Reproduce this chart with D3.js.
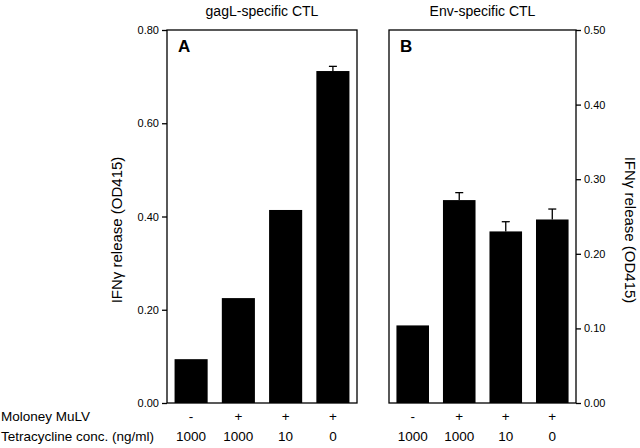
<!DOCTYPE html>
<html><head><meta charset="utf-8">
<script src="https://cdn.jsdelivr.net/npm/d3@7"></script>
<style>body{margin:0;background:#fff}svg{display:block}text{font-family:"Liberation Sans",Arial,Helvetica,sans-serif}</style>
</head><body><svg id="c" width="640" height="448"></svg>
<script>
const categories = ["c1","c2","c3","c4"];
const moloney = ["-","+","+","+"];
const tetracycline = ["1000","1000","10","0"];
const gagValues = [0.094, 0.225, 0.414, 0.712];
const gagErrors = [0, 0, 0, 0.010];
const envValues = [0.104, 0.272, 0.230, 0.246];
const envErrors = [0, 0.010, 0.013, 0.014];
const gagTicks = [0, 0.2, 0.4, 0.6, 0.8];
const envTicks = [0, 0.1, 0.2, 0.3, 0.4, 0.5];
const titles = ["gagL-specific CTL", "Env-specific CTL"];
const panelLetters = ["A", "B"];
const yLabel = "IFNγ release (OD415)";
const rowLabels = ["Moloney MuLV", "Tetracycline conc. (ng/ml)"];

const svg = d3.select("#c");
const plotTop = 30, plotBottom = 403;

function panel(x0, x1, values, errors, ymax, ticks, side, title, letter) {
  const x = d3.scaleBand().domain(categories).range([x0, x1]).paddingInner(0.3).paddingOuter(0.16);
  const y = d3.scaleLinear().domain([0, ymax]).range([plotBottom, plotTop]);
  const g = svg.append("g");
  g.append("rect").attr("x", x0).attr("y", plotTop).attr("width", x1 - x0).attr("height", plotBottom - plotTop)
    .attr("fill", "none").attr("stroke", "#000").attr("stroke-width", 1.3);
  g.selectAll(".bar").data(values).join("rect")
    .attr("x", (d, i) => x(categories[i])).attr("width", x.bandwidth())
    .attr("y", d => y(d)).attr("height", d => plotBottom - y(d)).attr("fill", "#000");
  values.forEach((v, i) => {
    if (!errors[i]) return;
    const cx = x(categories[i]) + x.bandwidth() / 2;
    g.append("line").attr("x1", cx).attr("x2", cx).attr("y1", y(v)).attr("y2", y(v + errors[i])).attr("stroke", "#000").attr("stroke-width", 1.3);
    g.append("line").attr("x1", cx - 4).attr("x2", cx + 4).attr("y1", y(v + errors[i])).attr("y2", y(v + errors[i])).attr("stroke", "#000").attr("stroke-width", 1.3);
  });
  const ax = side === "left" ? d3.axisLeft(y) : d3.axisRight(y);
  ax.tickValues(ticks).tickFormat(d3.format(".2f")).tickSize(5).tickPadding(3);
  const ag = g.append("g").attr("transform", `translate(${side === "left" ? x0 : x1},0)`).call(ax);
  ag.select(".domain").remove();
  ag.selectAll("line").attr("stroke-width", 1.3);
  ag.selectAll("text").attr("font-size", 11).attr("fill", "#000").attr("font-family", "Liberation Sans, Arial, sans-serif");
  g.append("text").attr("x", (x0 + x1) / 2).attr("y", 16).attr("text-anchor", "middle").attr("font-size", 14).text(title);
  g.append("text").attr("x", x0 + 11).attr("y", 52).attr("font-size", 17).attr("font-weight", "bold").text(letter);
  categories.forEach((c, i) => {
    const cx = x(c) + x.bandwidth() / 2;
    g.append("text").attr("x", cx).attr("y", 421).attr("text-anchor", "middle").attr("font-size", 13.5).text(moloney[i]);
    g.append("text").attr("x", cx).attr("y", 441).attr("text-anchor", "middle").attr("font-size", 13.5).text(tetracycline[i]);
  });
}

panel(167, 357, gagValues, gagErrors, 0.8, gagTicks, "left", titles[0], panelLetters[0]);
panel(389, 576, envValues, envErrors, 0.5, envTicks, "right", titles[1], panelLetters[1]);

svg.append("text").attr("transform", "translate(122,230) rotate(-90)").attr("text-anchor", "middle").attr("font-size", 15).text(yLabel);
svg.append("text").attr("transform", "translate(625,230) rotate(90)").attr("text-anchor", "middle").attr("font-size", 15).text(yLabel);
svg.append("text").attr("x", 1).attr("y", 421).attr("font-size", 13.5).text(rowLabels[0]);
svg.append("text").attr("x", 1).attr("y", 441).attr("font-size", 13.5).text(rowLabels[1]);
</script></body></html>
